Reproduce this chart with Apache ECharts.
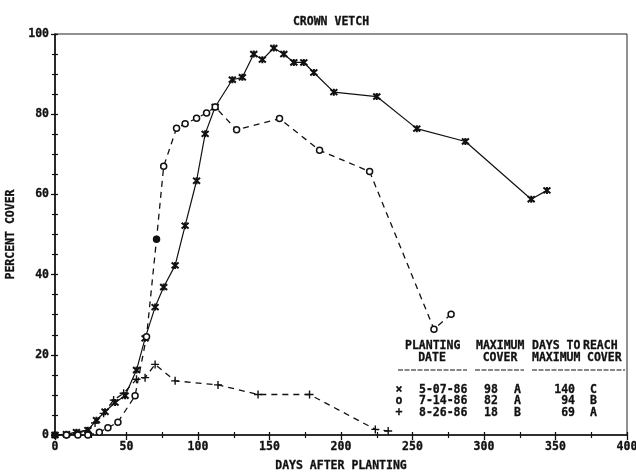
<!DOCTYPE html>
<html>
<head>
<meta charset="utf-8">
<script src="https://cdn.jsdelivr.net/npm/echarts@6/dist/echarts.min.js"></script>
<style>
  html, body { margin: 0; padding: 0; background: #fff; }
  #chart { width: 636px; height: 473px; }
</style>
</head>
<body>
<div id="chart"></div>
<script>
// Crown vetch ground cover after planting, three planting dates
const days_0507 = [0, 8, 15, 23, 29, 35, 42, 49, 57, 63, 70, 76, 84, 91, 99, 105, 112, 124, 131, 139, 145, 153, 160, 167, 174, 181, 195, 225, 253, 287, 333, 344];
const cover_0507 = [0, 0.2, 0.7, 1.2, 3.7, 5.8, 8.1, 9.8, 16.2, 24.1, 31.9, 36.9, 42.3, 52.2, 63.4, 75.1, 81.8, 88.6, 89.2, 95.0, 93.6, 96.5, 95.0, 92.9, 92.9, 90.4, 85.5, 84.4, 76.4, 73.2, 58.8, 61.0];

const days_0714 = [0, 8, 16, 23, 31, 37, 44, 56, 64, 71, 76, 85, 91, 99, 106, 112, 127, 157, 185, 220, 265, 277];
const cover_0714 = [0, 0, 0, 0, 0.7, 1.8, 3.2, 9.8, 24.5, 48.8, 67.0, 76.5, 77.6, 79.0, 80.3, 81.8, 76.1, 78.9, 71.0, 65.7, 26.4, 30.1];

const days_0826 = [0, 8, 15, 22, 28, 34, 41, 48, 57, 63, 70, 84, 114, 142, 178, 224, 233];
const cover_0826 = [0, 0, 0.5, 1, 3, 5.4, 8.7, 10.4, 13.9, 14.3, 17.6, 13.5, 12.5, 10.1, 10.1, 1.4, 1.0];

const xTicks = [0, 50, 100, 150, 200, 250, 300, 350, 400];
const yTicks = [0, 20, 40, 60, 80, 100];

// summary table rows: symbol, planting date, max cover, group, days to max, group
const tableSymbols = ['×', 'o', '+'];
const tableDates = ['5-07-86', '7-14-86', '8-26-86'];
const tableMaxCover = ['98', '82', '18'];
const tableMaxGroup = ['A', 'A', 'B'];
const tableDaysToMax = ['140', '94', '69'];
const tableDaysGroup = ['C', 'B', 'A'];

const FONT = 'DejaVu Sans Mono';
const INK = '#111';
const FS = 11.5;

const pairs = (xs, ys) => xs.map((x, i) => [x, ys[i]]);

const starPath = 'path://M-1,-1L1,1M1,-1L-1,1M0,-1.2L0,1.2';
const plusPath = 'path://M-1,0L1,0M0,-1L0,1';

const chart = echarts.init(document.getElementById('chart'), null, { renderer: 'canvas' });

const baseAxisText = {
  fontFamily: FONT, fontWeight: 'bold', fontSize: FS, color: INK,
  textBorderColor: INK, textBorderWidth: 0.3
};

function texts() {
  const els = [];
  const t = (x, y, s, align) => els.push({
    type: 'text', x: x, y: y,
    style: {
      text: s, fill: INK, stroke: INK, lineWidth: 0.3,
      font: 'bold ' + FS + 'px "' + FONT + '"',
      textAlign: align || 'left', textVerticalAlign: 'middle'
    }
  });
  // header
  t(405, 346, 'PLANTING');
  t(432, 358, 'DATE', 'center');
  t(476, 346, 'MAXIMUM');
  t(500, 358, 'COVER', 'center');
  t(532, 346, 'DAYS TO');
  t(583, 346, 'REACH');
  t(532, 358, 'MAXIMUM');
  t(587, 358, 'COVER');
  // rule under header
  [[398, 467], [475, 524], [532, 625]].forEach(function (seg) {
    els.push({
      type: 'line', shape: { x1: seg[0], y1: 370, x2: seg[1], y2: 370 },
      style: { stroke: INK, lineWidth: 1.2, lineDash: [5, 1.5] }
    });
  });
  const rowY = [390, 401.5, 413];
  for (let i = 0; i < tableDates.length; i++) {
    t(399, rowY[i], tableSymbols[i], 'center');
    t(419, rowY[i], tableDates[i]);
    t(484, rowY[i], tableMaxCover[i]);
    t(514, rowY[i], tableMaxGroup[i]);
    t(575, rowY[i], tableDaysToMax[i], 'right');
    t(590, rowY[i], tableDaysGroup[i]);
  }
  return els;
}

const filledDays0714 = [0, 71];

const option = {
  backgroundColor: '#fff',
  animation: false,
  title: {
    text: 'CROWN VETCH',
    left: 326, top: 11,
    textAlign: 'center',
    textStyle: Object.assign({}, baseAxisText)
  },
  grid: {
    left: 55, right: 9, top: 34, bottom: 38,
    containLabel: false, outerBoundsMode: 'none',
    show: true, borderColor: '#222', borderWidth: 1, backgroundColor: 'transparent'
  },
  xAxis: [
    {
      type: 'value', min: 0, max: 400, interval: 50,
      name: 'DAYS AFTER PLANTING', nameLocation: 'middle', nameGap: 25,
      nameTextStyle: baseAxisText,
      axisLine: { show: true, onZero: false, lineStyle: { color: INK, width: 1.6 } },
      axisTick: { show: true, length: 5, lineStyle: { color: INK, width: 1.3 } },
      minorTick: { show: true, splitNumber: 2, length: 3, lineStyle: { color: INK, width: 1.2 } },
      axisLabel: Object.assign({ margin: 6, formatter: v => xTicks.includes(v) ? String(v) : '' }, baseAxisText),
      splitLine: { show: false }
    },
    {
      type: 'value', min: 0, max: 400, interval: 50, position: 'bottom',
      axisLine: { show: false },
      axisTick: { show: true, inside: true, length: 3, lineStyle: { color: INK, width: 1.3 } },
      minorTick: { show: true, splitNumber: 2, length: 3, lineStyle: { color: INK, width: 1.2 } },
      axisLabel: { show: false },
      splitLine: { show: false }
    }
  ],
  yAxis: [
    {
      type: 'value', min: 0, max: 100, interval: 20,
      name: 'PERCENT COVER', nameLocation: 'middle', nameGap: 27, nameRotate: 90,
      nameTextStyle: baseAxisText,
      axisLine: { show: true, onZero: false, lineStyle: { color: INK, width: 1.6 } },
      axisTick: { show: true, length: 4, lineStyle: { color: INK, width: 1.3 } },
      minorTick: { show: true, splitNumber: 4, length: 3, lineStyle: { color: INK, width: 1.2 } },
      axisLabel: Object.assign({ margin: 6, formatter: v => yTicks.includes(v) ? String(v) : '' }, baseAxisText),
      splitLine: { show: false }
    },
    {
      type: 'value', min: 0, max: 100, interval: 20, position: 'left',
      axisLine: { show: false },
      axisTick: { show: true, inside: true, length: 3, lineStyle: { color: INK, width: 1.3 } },
      minorTick: { show: true, splitNumber: 4, length: 3, lineStyle: { color: INK, width: 1.2 } },
      axisLabel: { show: false },
      splitLine: { show: false }
    }
  ],
  series: [
    {
      name: '5-07-86', type: 'line', xAxisIndex: 0, yAxisIndex: 0,
      data: pairs(days_0507, cover_0507),
      showSymbol: true, showAllSymbol: true,
      symbol: starPath, symbolSize: 7,
      itemStyle: { color: 'transparent', borderColor: INK, borderWidth: 2 },
      lineStyle: { color: INK, width: 1.2 },
      z: 3
    },
    {
      name: '7-14-86', type: 'line', xAxisIndex: 0, yAxisIndex: 0,
      data: pairs(days_0714, cover_0714).map(p => filledDays0714.includes(p[0])
        ? { value: p, itemStyle: { color: INK } }
        : p),
      showSymbol: true, showAllSymbol: true,
      symbol: 'circle', symbolSize: 6,
      itemStyle: { color: '#fff', borderColor: INK, borderWidth: 1.5 },
      lineStyle: { color: INK, width: 1.3, type: [6, 5] },
      z: 4
    },
    {
      name: '8-26-86', type: 'line', xAxisIndex: 0, yAxisIndex: 0,
      data: pairs(days_0826, cover_0826),
      showSymbol: true, showAllSymbol: true,
      symbol: plusPath, symbolSize: 8,
      itemStyle: { color: 'transparent', borderColor: INK, borderWidth: 1.4 },
      lineStyle: { color: INK, width: 1.3, type: [6, 5] },
      z: 2
    }
  ],
  graphic: texts()
};

chart.setOption(option);
</script>
</body>
</html>
